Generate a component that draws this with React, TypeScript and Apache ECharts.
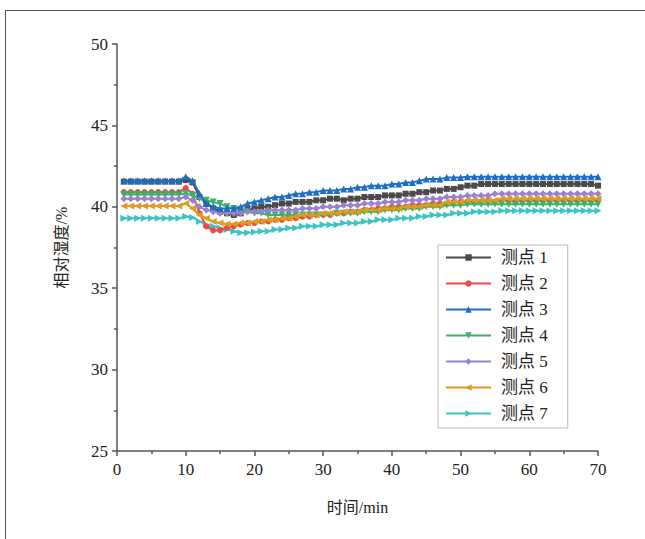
import React, { useEffect, useRef } from "react";
import * as echarts from "echarts";

const times: number[] = Array.from({ length: 70 }, (_, i) => i + 1);

const seriesNames = ["测点 1", "测点 2", "测点 3", "测点 4", "测点 5", "测点 6", "测点 7"];

const s1 = [
  41.55, 41.55, 41.55, 41.55, 41.55, 41.55, 41.55, 41.55, 41.55, 41.65,
  41.5, 40.6, 40.2, 39.9, 39.7, 39.6, 39.5, 39.6, 39.8, 39.9,
  40.0, 40.0, 40.1, 40.2, 40.2, 40.3, 40.3, 40.3, 40.4, 40.4,
  40.5, 40.5, 40.4, 40.5, 40.5, 40.6, 40.6, 40.6, 40.7, 40.7,
  40.7, 40.8, 40.8, 40.9, 40.9, 41.0, 41.0, 41.1, 41.1, 41.2,
  41.3, 41.3, 41.4, 41.4, 41.4, 41.4, 41.4, 41.4, 41.4, 41.4,
  41.4, 41.4, 41.4, 41.4, 41.4, 41.4, 41.4, 41.4, 41.4, 41.3,
];
const s2 = [
  40.9, 40.9, 40.9, 40.9, 40.9, 40.9, 40.9, 40.9, 40.9, 41.15,
  40.8, 39.6, 38.8, 38.55, 38.55, 38.7, 38.8, 38.9, 39.0, 39.0,
  39.1, 39.1, 39.2, 39.2, 39.3, 39.3, 39.4, 39.4, 39.5, 39.5,
  39.5, 39.6, 39.6, 39.7, 39.7, 39.8, 39.8, 39.9, 39.9, 40.0,
  40.0, 40.0, 40.1, 40.1, 40.1, 40.2, 40.2, 40.2, 40.3, 40.3,
  40.3, 40.3, 40.3, 40.4, 40.3, 40.4, 40.4, 40.3, 40.4, 40.4,
  40.4, 40.4, 40.4, 40.4, 40.4, 40.4, 40.4, 40.4, 40.4, 40.4,
];
const s3 = [
  41.6, 41.6, 41.6, 41.6, 41.6, 41.6, 41.6, 41.6, 41.6, 41.85,
  41.6, 40.8, 40.2, 40.0, 39.9, 39.9, 39.9, 40.0, 40.2, 40.3,
  40.4, 40.5, 40.6, 40.6, 40.7, 40.8, 40.8, 40.9, 40.9, 41.0,
  41.0, 41.0, 41.1, 41.1, 41.2, 41.2, 41.3, 41.3, 41.3, 41.4,
  41.4, 41.5, 41.5, 41.6, 41.7, 41.7, 41.7, 41.8, 41.8, 41.8,
  41.85, 41.85, 41.85, 41.85, 41.85, 41.85, 41.85, 41.85, 41.85, 41.85,
  41.85, 41.85, 41.85, 41.85, 41.85, 41.85, 41.85, 41.85, 41.85, 41.85,
];
const s4 = [
  40.75, 40.75, 40.75, 40.75, 40.75, 40.75, 40.75, 40.75, 40.75, 40.8,
  40.7, 40.5, 40.4, 40.3, 40.2, 40.0, 39.9, 39.8, 39.7, 39.6,
  39.6, 39.5, 39.5, 39.5, 39.5, 39.5, 39.5, 39.5, 39.5, 39.5,
  39.5, 39.6, 39.6, 39.6, 39.6, 39.7, 39.7, 39.7, 39.8, 39.8,
  39.8, 39.9, 39.9, 39.9, 40.0, 40.0, 40.0, 40.1, 40.1, 40.1,
  40.15, 40.15, 40.15, 40.15, 40.15, 40.15, 40.15, 40.15, 40.15, 40.15,
  40.15, 40.15, 40.15, 40.15, 40.15, 40.15, 40.15, 40.15, 40.15, 40.15,
];
const s5 = [
  40.5, 40.5, 40.5, 40.5, 40.5, 40.5, 40.5, 40.5, 40.5, 40.6,
  40.4, 40.0, 39.8, 39.7, 39.6, 39.6, 39.6, 39.6, 39.7, 39.7,
  39.7, 39.8, 39.8, 39.8, 39.8, 39.8, 39.9, 39.9, 39.9, 40.0,
  40.0, 40.0, 40.1, 40.1, 40.1, 40.2, 40.2, 40.2, 40.3, 40.3,
  40.3, 40.4, 40.4, 40.4, 40.5, 40.5, 40.5, 40.6, 40.6, 40.6,
  40.7, 40.7, 40.7, 40.7, 40.8, 40.8, 40.8, 40.8, 40.8, 40.8,
  40.8, 40.8, 40.8, 40.8, 40.8, 40.8, 40.8, 40.8, 40.8, 40.8,
];
const s6 = [
  40.05, 40.05, 40.05, 40.05, 40.05, 40.05, 40.05, 40.05, 40.05, 40.2,
  39.9, 39.5, 39.3, 39.1, 39.0, 38.95, 38.95, 39.0, 39.0, 39.1,
  39.1, 39.2, 39.2, 39.3, 39.3, 39.4, 39.5, 39.5, 39.5, 39.6,
  39.6, 39.6, 39.7, 39.7, 39.7, 39.8, 39.8, 39.8, 39.9, 39.9,
  39.9, 40.0, 40.0, 40.0, 40.1, 40.1, 40.1, 40.3, 40.3, 40.3,
  40.4, 40.4, 40.4, 40.4, 40.4, 40.5, 40.5, 40.5, 40.5, 40.5,
  40.5, 40.5, 40.5, 40.5, 40.5, 40.5, 40.5, 40.5, 40.5, 40.5,
];
const s7 = [
  39.3, 39.3, 39.3, 39.3, 39.3, 39.3, 39.3, 39.3, 39.3, 39.4,
  39.35, 39.1, 38.9, 38.8, 38.7, 38.6, 38.5, 38.4, 38.4, 38.45,
  38.5, 38.5, 38.6, 38.6, 38.7, 38.7, 38.8, 38.8, 38.8, 38.9,
  38.9, 38.9, 39.0, 39.0, 39.0, 39.1, 39.1, 39.2, 39.2, 39.2,
  39.3, 39.3, 39.3, 39.4, 39.4, 39.5, 39.5, 39.5, 39.6, 39.6,
  39.6, 39.7, 39.7, 39.7, 39.7, 39.75, 39.75, 39.75, 39.75, 39.75,
  39.75, 39.75, 39.75, 39.75, 39.75, 39.75, 39.75, 39.75, 39.75, 39.75,
];

const allSeries = [s1, s2, s3, s4, s5, s6, s7];
const colors = ["#4a4a4a", "#f04848", "#1f6ec4", "#3cb06a", "#9a80d0", "#e09a1e", "#3cc4c4"];
const symbols = [
  "rect",
  "circle",
  "triangle",
  "path://M0,0 L10,0 L5,9 Z",
  "diamond",
  "path://M9,0 L9,10 L0,5 Z",
  "path://M0,0 L9,5 L0,10 Z",
];
const symbolSizes = [6, 6, 7, 7, 7, 7, 7];
const zOrder = [4, 5, 9, 6, 7, 8, 3];

const serif = "Liberation Serif, Noto Sans CJK SC, serif";

export default function App() {
  const ref = useRef<HTMLDivElement>(null);
  useEffect(() => {
    document.body.style.margin = "0";
    if (!ref.current) return;
    const chart = echarts.init(ref.current, undefined, { renderer: "svg" });
    chart.setOption({
      animation: false,
      backgroundColor: "#fff",
      textStyle: { fontFamily: serif },
      graphic: [
        {
          type: "rect",
          shape: { x: 5.5, y: 10.5, width: 700, height: 600 },
          style: { fill: "none", stroke: "#555", lineWidth: 1 },
          silent: true,
        },
      ],
      grid: { left: 117, right: 47, top: 44, bottom: 88, containLabel: false },
      legend: {
        orient: "vertical",
        left: 438,
        top: 245,
        data: seriesNames,
        itemWidth: 45,
        itemHeight: 8,
        itemGap: 9,
        padding: [4, 20, 6, 7],
        borderColor: "#bbb",
        borderWidth: 1,
        backgroundColor: "#fff",
        textStyle: { fontFamily: serif, fontSize: 17, color: "#222", padding: [0, 0, 0, 5] },
      },
      xAxis: {
        type: "value",
        min: 0,
        max: 70,
        interval: 10,
        name: "时间/min",
        nameLocation: "middle",
        nameGap: 48,
        nameTextStyle: { fontFamily: serif, fontSize: 16, color: "#222" },
        axisLine: { onZero: false, lineStyle: { color: "#555", width: 1.5 } },
        axisTick: { show: true, length: 5, lineStyle: { color: "#555", width: 1.5 } },
        minorTick: { show: true, splitNumber: 2, length: 3, lineStyle: { color: "#555", width: 1.5 } },
        axisLabel: { fontFamily: serif, fontSize: 17, color: "#222", margin: 10 },
        splitLine: { show: false },
      },
      yAxis: {
        type: "value",
        min: 25,
        max: 50,
        interval: 5,
        name: "相对湿度/%",
        nameLocation: "middle",
        nameGap: 48,
        nameTextStyle: { fontFamily: serif, fontSize: 16, color: "#222" },
        axisLine: { show: true, onZero: false, lineStyle: { color: "#555", width: 1.5 } },
        axisTick: { show: true, length: 5, lineStyle: { color: "#555", width: 1.5 } },
        minorTick: { show: true, splitNumber: 2, length: 3, lineStyle: { color: "#555", width: 1.5 } },
        axisLabel: { fontFamily: serif, fontSize: 17, color: "#222", margin: 9 },
        splitLine: { show: false },
      },
      series: allSeries.map((vals, i) => ({
        name: seriesNames[i],
        type: "line",
        data: times.map((t, j) => [t, vals[j]]),
        symbol: symbols[i],
        symbolSize: symbolSizes[i],
        showAllSymbol: true,
        color: colors[i],
        lineStyle: { width: 2, color: colors[i] },
        itemStyle: { color: colors[i] },
        z: zOrder[i],
      })),
    });
    return () => chart.dispose();
  }, []);
  return <div ref={ref} style={{ width: 645, height: 539 }} />;
}
